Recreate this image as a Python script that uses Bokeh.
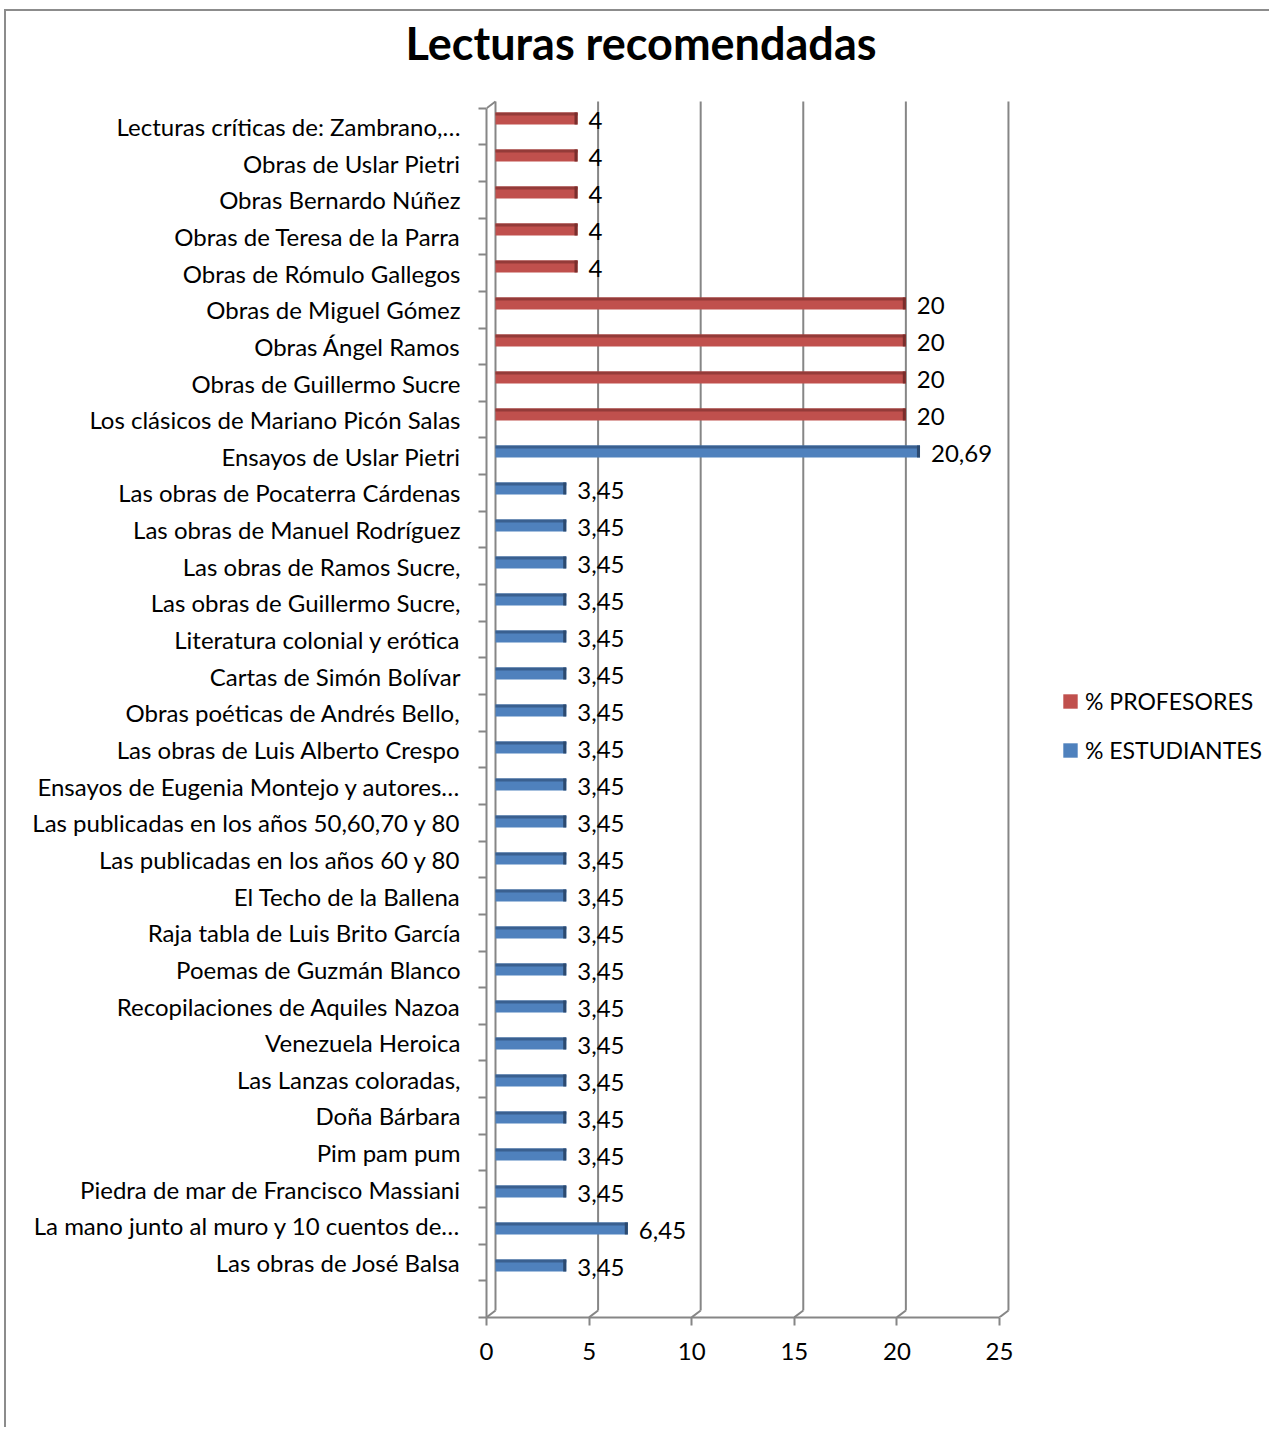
from bokeh.plotting import figure
from bokeh.models import (ColumnDataSource, Range1d, LinearAxis, FixedTicker,
                          Legend, LegendItem)
from bokeh.transform import dodge
from bokeh.core.properties import value
from bokeh.embed import file_html
from bokeh.resources import INLINE

# ---------------- data ----------------
title_text = "Lecturas recomendadas"

categories = [
    "Lecturas críticas de: Zambrano,…",
    "Obras de Uslar Pietri",
    "Obras Bernardo Núñez",
    "Obras de Teresa de la Parra",
    "Obras de Rómulo Gallegos",
    "Obras de Miguel Gómez",
    "Obras Ángel Ramos",
    "Obras de Guillermo Sucre",
    "Los clásicos de Mariano Picón Salas",
    "Ensayos de Uslar Pietri",
    "Las obras de Pocaterra Cárdenas",
    "Las obras de Manuel Rodríguez",
    "Las obras de Ramos Sucre,",
    "Las obras de Guillermo Sucre,",
    "Literatura colonial y erótica",
    "Cartas de Simón Bolívar",
    "Obras poéticas de Andrés Bello,",
    "Las obras de Luis Alberto Crespo",
    "Ensayos de Eugenia Montejo y autores…",
    "Las publicadas en los años 50,60,70 y 80",
    "Las publicadas en los años 60 y 80",
    "El Techo de la Ballena",
    "Raja tabla de Luis Brito García",
    "Poemas de Guzmán Blanco",
    "Recopilaciones de Aquiles Nazoa",
    "Venezuela Heroica",
    "Las Lanzas coloradas,",
    "Doña Bárbara",
    "Pim pam pum",
    "Piedra de mar de Francisco Massiani",
    "La mano junto al muro y 10 cuentos de…",
    "Las obras de José Balsa",
]

pct_profesores = [4, 4, 4, 4, 4, 20, 20, 20, 20,
                  None, None, None, None, None, None, None, None, None, None, None,
                  None, None, None, None, None, None, None, None, None, None, None, None]

pct_estudiantes = [None, None, None, None, None, None, None, None, None,
                   20.69, 3.45, 3.45, 3.45, 3.45, 3.45, 3.45, 3.45, 3.45, 3.45, 3.45,
                   3.45, 3.45, 3.45, 3.45, 3.45, 3.45, 3.45, 3.45, 3.45, 3.45, 6.45, 3.45]

x_ticks = [0, 5, 10, 15, 20, 25]

series_names = ["% PROFESORES", "% ESTUDIANTES"]

# ---------------- style ----------------
FONT = "Lato"
FS = "24px"
GRAY = "#868686"
RED, RED_TOP, RED_END = "#C0504D", "#943B39", "#7A2E2C"
BLUE, BLUE_TOP, BLUE_END = "#4F81BD", "#3A6090", "#2C4A70"
BAR_H = 0.324
# 3-D box (back wall) geometry, in main-range units
BACK_TOP = -0.459
BACK_FLOOR = 32.217
DEPTH_X = 0.4386
DEPTH_Y = 0.185


def make_source(vals):
    ys, vs, labels = [], [], []
    for i, v in enumerate(vals):
        if v is None:
            continue
        ys.append(i)
        vs.append(v)
        labels.append(f"{v:g}".replace(".", ","))
    return ColumnDataSource(dict(y=ys, v=vs, label=labels))


src_p = make_source(pct_profesores)
src_e = make_source(pct_estudiantes)

p = figure(width=1265, height=1418,
           x_range=Range1d(-0.4386, 37.82),
           y_range=Range1d(32.406, -1.2422),
           x_axis_type=None, y_axis_type=None,
           output_backend="svg", toolbar_location=None,
           min_border_left=480, min_border_right=0,
           min_border_top=0, min_border_bottom=112,
           title=title_text)
p.extra_x_ranges = {"front": Range1d(0, 38.255)}
p.extra_y_ranges = {"front": Range1d(32.5, -1.4733)}
p.outline_line_color = None
p.background_fill_color = "white"
p.border_fill_color = "white"
p.styles = {"border-left": "2px solid #8c8c8c", "border-top": "2px solid #8c8c8c",
            "margin-left": "4px", "margin-top": "9px"}

p.title.text_font = FONT
p.title.text_font_size = "45px"
p.title.text_font_style = "bold"
p.title.text_color = "black"
p.title.align = "left"
p.title.offset = -81
p.title.standoff = 5

# back-wall grid lines and 3-D floor connectors
p.segment(x0=x_ticks, x1=x_ticks, y0=BACK_TOP, y1=BACK_FLOOR,
          line_color=GRAY, line_width=2)
p.segment(x0=[t - DEPTH_X for t in x_ticks], y0=BACK_FLOOR + DEPTH_Y,
          x1=x_ticks, y1=BACK_FLOOR, line_color=GRAY, line_width=2)
p.segment(x0=[x_ticks[0] - DEPTH_X], y0=BACK_TOP + DEPTH_Y,
          x1=[x_ticks[0]], y1=BACK_TOP, line_color=GRAY, line_width=2)

# left (category) axis on the front plane
n = len(categories)
yaxis = LinearAxis(y_range_name="front",
                   ticker=FixedTicker(ticks=list(range(n)),
                                      minor_ticks=[k - 0.5 for k in range(n + 2)]),
                   major_label_overrides={k: c for k, c in enumerate(categories)},
                   bounds=(-0.5, n + 0.5))
yaxis.axis_line_color = GRAY
yaxis.axis_line_width = 2
yaxis.major_tick_out = 0
yaxis.major_tick_in = 0
yaxis.minor_tick_out = 8
yaxis.minor_tick_in = 0
yaxis.minor_tick_line_color = GRAY
yaxis.minor_tick_line_width = 2
yaxis.major_label_standoff = 18
yaxis.major_label_text_font = FONT
yaxis.major_label_text_font_size = FS
yaxis.major_label_text_color = "black"
p.add_layout(yaxis, "left")

# bottom value axis on the front plane
xaxis = LinearAxis(x_range_name="front", ticker=FixedTicker(ticks=x_ticks),
                   bounds=(x_ticks[0], x_ticks[-1]))
xaxis.axis_line_color = GRAY
xaxis.axis_line_width = 2
xaxis.major_tick_out = 8
xaxis.major_tick_in = 0
xaxis.major_tick_line_color = GRAY
xaxis.major_tick_line_width = 2
xaxis.minor_tick_out = 0
xaxis.minor_tick_in = 0
xaxis.major_label_standoff = 17
xaxis.major_label_text_font = FONT
xaxis.major_label_text_font_size = FS
xaxis.major_label_text_color = "black"
p.add_layout(xaxis, "below")


def draw_series(src, main, top, end):
    r = p.hbar(y="y", left=0, right="v", height=BAR_H, source=src,
               fill_color=main, line_color=None)
    p.hbar(y=dodge("y", -0.12, range=p.y_range), left=0, right="v", height=0.085,
           source=src, fill_color=top, line_color=None)
    p.hbar(y="y", left=dodge("v", -0.15, range=p.x_range), right="v", height=BAR_H,
           source=src, fill_color=end, line_color=None)
    p.text(x="v", y="y", text="label", source=src, x_offset=11, y_offset=2,
           text_font=value(FONT), text_font_size=value(FS), text_color="black",
           text_align="left", text_baseline="middle")
    return r


r_p = draw_series(src_p, RED, RED_TOP, RED_END)
r_e = draw_series(src_e, BLUE, BLUE_TOP, BLUE_END)

legend = Legend(items=[LegendItem(label=series_names[0], renderers=[r_p]),
                       LegendItem(label=series_names[1], renderers=[r_e])],
                location=(575, 553))
legend.glyph_width = 18
legend.glyph_height = 18
legend.label_standoff = 6
legend.label_height = 29
legend.spacing = 20
legend.padding = 0
legend.margin = 0
legend.border_line_color = None
legend.background_fill_alpha = 0
legend.label_text_font = FONT
legend.label_text_font_size = "23px"
legend.label_text_color = "black"
p.add_layout(legend)

open("out.html", "w").write(file_html(p, INLINE))
